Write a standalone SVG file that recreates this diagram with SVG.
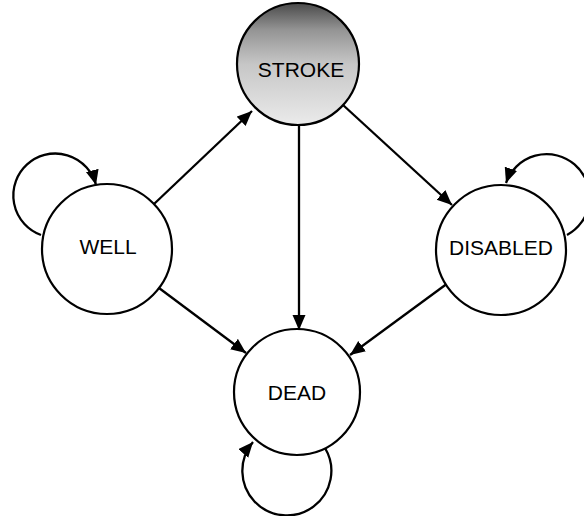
<svg xmlns="http://www.w3.org/2000/svg" width="584" height="516" viewBox="0 0 584 516">
<style>
.node{fill:#fff;stroke:#000;stroke-width:2.2}
.lbl{font-family:"Liberation Sans",Arial,sans-serif;font-size:21px;fill:#000;text-anchor:middle}
.edge{fill:none;stroke:#000;stroke-width:2.3;marker-end:url(#arr)}
</style>
<defs>
<marker id="arr" markerUnits="userSpaceOnUse" markerWidth="16" markerHeight="14" refX="15" refY="6.5" orient="auto">
<path d="M0,0 L15,6.5 L0,13 z" fill="#000"/>
</marker>
<linearGradient id="g" x1="0" y1="0" x2="0" y2="1">
<stop offset="0" stop-color="#4a4a4a"/>
<stop offset="0.22" stop-color="#949494"/>
<stop offset="0.5" stop-color="#c6c6c6"/>
<stop offset="1" stop-color="#ebebeb"/>
</linearGradient>
</defs>
<rect width="584" height="516" fill="#fff"/>
<g id="connectors">
<line class="edge" x1="154" y1="204" x2="252" y2="111"/>
<line class="edge" x1="343" y1="105" x2="452" y2="205"/>
<line class="edge" x1="299" y1="125" x2="299" y2="330"/>
<line class="edge" x1="159" y1="288" x2="246" y2="353"/>
<line class="edge" x1="448" y1="283" x2="350" y2="355"/>
<path class="edge" d="M41,235 A42,42 0 1 1 96,185"/>
<path class="edge" d="M567,235 A43,43 0 1 0 506,183"/>
<path class="edge" d="M325,448 A44.5,44.5 0 1 1 253,442"/>
</g>
<g id="stroke">
<circle cx="298" cy="64" r="61" fill="url(#g)" stroke="#000" stroke-width="2.2"/>
<text class="lbl" x="301" y="77">STROKE</text>
</g>
<g id="well">
<circle class="node" cx="107" cy="249" r="65"/>
<text class="lbl" x="108" y="254">WELL</text>
</g>
<g id="disabled">
<circle class="node" cx="501" cy="250" r="65"/>
<text class="lbl" x="501" y="255">DISABLED</text>
</g>
<g id="dead">
<circle class="node" cx="297" cy="392" r="63"/>
<text class="lbl" x="297" y="400">DEAD</text>
</g>
</svg>
